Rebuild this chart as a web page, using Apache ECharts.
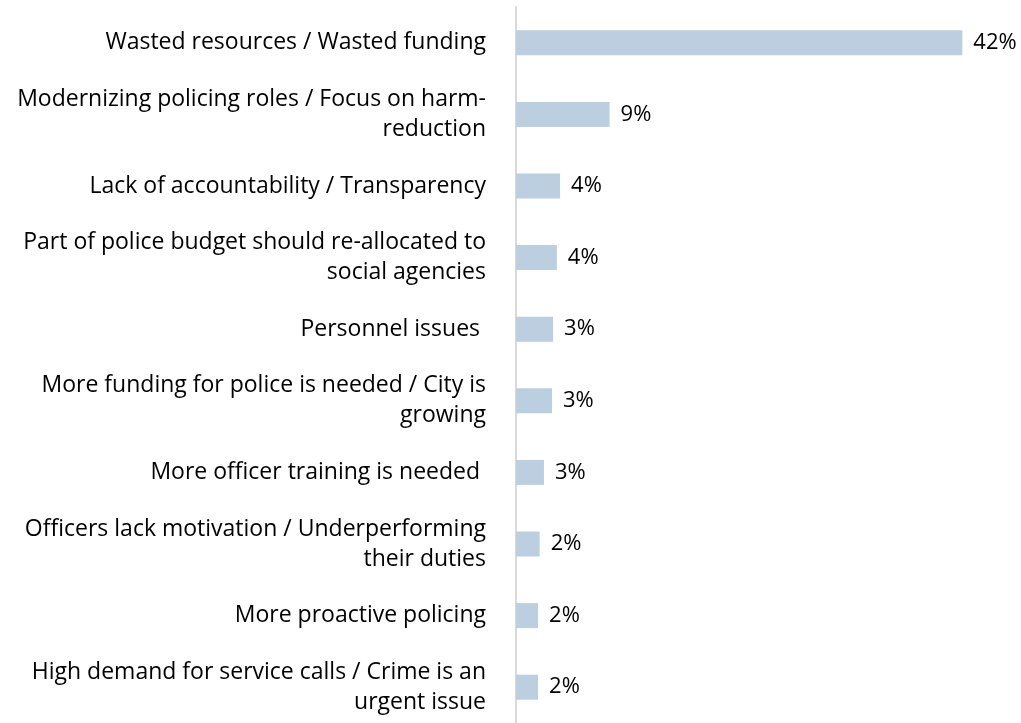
<!DOCTYPE html>
<html>
<head>
<meta charset="utf-8">
<script src="https://cdn.jsdelivr.net/npm/echarts@6/dist/echarts.min.js"></script>
<style>
  html, body { margin: 0; padding: 0; background: #fff; }
  #chart { width: 1021px; height: 723px; }
</style>
</head>
<body>
<div id="chart"></div>
<script>
  // categories, top to bottom
  var categories = [
    'Wasted resources / Wasted funding',
    'Modernizing policing roles / Focus on harm-\nreduction',
    'Lack of accountability / Transparency',
    'Part of police budget should re-allocated to\nsocial agencies',
    'Personnel issues ',
    'More funding for police is needed / City is\ngrowing',
    'More officer training is needed ',
    'Officers lack motivation / Underperforming\ntheir duties',
    'More proactive policing',
    'High demand for service calls / Crime is an\nurgent issue'
  ]
  // percent of responses (bar lengths)
  var values = [41.5, 8.7, 4.1, 3.8, 3.45, 3.35, 2.6, 2.2, 2.05, 2.05]
  // labels as printed
  var valueLabels = ['42%', '9%', '4%', '4%', '3%', '3%', '3%', '2%', '2%', '2%']

  var chart = echarts.init(document.getElementById('chart'))
  chart.setOption({
    animation: false,
    grid: {
      left: 516,
      top: 7,
      width: 484,
      height: 721
    },
    xAxis: {
      type: 'value',
      min: 0,
      max: 45,
      show: false
    },
    yAxis: {
      type: 'category',
      inverse: true,
      data: categories,
      axisLine: {
        show: true,
        lineStyle: { color: '#d9d9d9', width: 2 }
      },
      axisTick: { show: false },
      axisLabel: {
        margin: 30,
        color: '#000',
        fontFamily: 'Open Sans',
        fontSize: 23,
        lineHeight: 30,
        align: 'right',
        padding: [5, 0, 0, 0]
      }
    },
    series: [{
      type: 'bar',
      data: values,
      barWidth: 25,
      itemStyle: { color: '#bccfe0' },
      label: {
        show: true,
        position: 'right',
        distance: 11,
        color: '#000',
        fontFamily: 'Open Sans',
        fontSize: 22,
        padding: [4, 0, 0, 0],
        formatter: function (p) { return valueLabels[p.dataIndex] }
      }
    }]
  })
</script>
</body>
</html>
